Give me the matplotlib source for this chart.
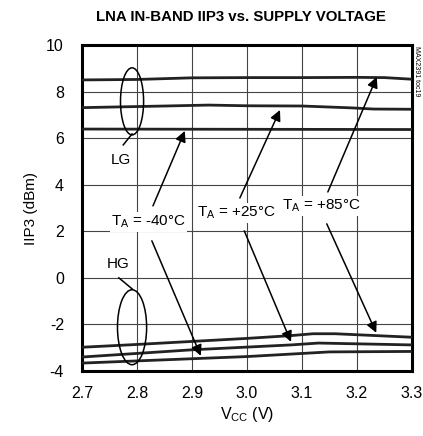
import matplotlib
matplotlib.use('Agg')
import matplotlib.pyplot as plt
from matplotlib.patches import Ellipse

plt.rcParams['font.family'] = ['Liberation Sans', 'DejaVu Sans']
plt.rcParams['axes.unicode_minus'] = False

# LG curves (low gain)
lg_85_x = [2.7, 2.8, 2.9, 3.0, 3.1, 3.2, 3.25, 3.3]
lg_85_y = [8.50, 8.52, 8.59, 8.60, 8.60, 8.61, 8.60, 8.53]
lg_25_x = [2.7, 2.85, 2.93, 3.0, 3.1, 3.19, 3.23, 3.3]
lg_25_y = [7.31, 7.38, 7.42, 7.39, 7.38, 7.30, 7.25, 7.24]
lg_m40_x = [2.7, 3.0, 3.3]
lg_m40_y = [6.39, 6.38, 6.37]

# HG curves (high gain)
hg_a_x = [2.7, 2.8, 2.9, 3.0, 3.08, 3.12, 3.16, 3.3]
hg_a_y = [-2.98, -2.86, -2.73, -2.60, -2.48, -2.40, -2.40, -2.55]
hg_b_x = [2.7, 2.9, 3.08, 3.13, 3.3]
hg_b_y = [-3.40, -3.09, -2.88, -2.80, -2.88]
hg_c_x = [2.7, 3.0, 3.15, 3.3]
hg_c_y = [-3.66, -3.38, -3.18, -3.16]

x_ticks = [2.7, 2.8, 2.9, 3.0, 3.1, 3.2, 3.3]
y_ticks = [-4, -2, 0, 2, 4, 6, 8, 10]

fig = plt.figure(figsize=(4.23, 4.36), dpi=100)
ax = fig.add_axes([82/423, 1 - 371/436, 330/423, 326/436])

for xs, ys in [(lg_85_x, lg_85_y), (lg_25_x, lg_25_y), (lg_m40_x, lg_m40_y),
               (hg_a_x, hg_a_y), (hg_b_x, hg_b_y), (hg_c_x, hg_c_y)]:
    ax.plot(xs, ys, color='#222222', lw=2.0, zorder=3, solid_capstyle='butt')

ax.set_xlim(2.7, 3.3)
ax.set_ylim(-4, 10)
ax.set_xticks(x_ticks)
ax.set_xticklabels(['2.7', '2.8', '2.9', '3.0', '3.1', '3.2', '3.3'])
ax.set_yticks(y_ticks)
ax.tick_params(length=0, labelsize=11.5)
ax.tick_params(axis='y', pad=13)
ax.tick_params(axis='x', pad=11)
ax.grid(True, color='#444444', lw=0.8)
for s in ax.spines.values():
    s.set_linewidth(2.2)

ax.set_xlabel(r'V$_\mathregular{CC}$ (V)', fontsize=11.5, labelpad=3)
ax.set_ylabel('IIP3 (dBm)', fontsize=11, labelpad=6)
fig.text(241/423, 1 - 17/436, 'LNA IN-BAND IIP3 vs. SUPPLY VOLTAGE',
         fontsize=10.8, fontweight='bold', ha='center', va='center')
fig.text(416/423, 1 - 46/436, 'MAX2391 toc19', fontsize=5, rotation=-90,
         ha='center', va='top')

box = dict(facecolor='white', edgecolor='none', pad=1)
lab_size = 11
ax.text(2.821, 2.4, r'T$_\mathregular{A}$ = -40°C', fontsize=lab_size, ha='center',
        va='center', bbox=box, zorder=4)
ax.text(2.98, 2.79, r'T$_\mathregular{A}$ = +25°C', fontsize=lab_size, ha='center',
        va='center', bbox=box, zorder=4)
ax.text(3.135, 3.09, r'T$_\mathregular{A}$ = +85°C', fontsize=lab_size, ha='center',
        va='center', bbox=box, zorder=4)

arrows = [((2.829, 3.09), (2.887, 6.31)),
          ((2.827, 1.59), (2.916, -3.35)),
          ((2.987, 3.43), (3.06, 7.21)),
          ((2.995, 2.02), (3.08, -2.75)),
          ((3.147, 3.69), (3.236, 8.63)),
          ((3.145, 2.32), (3.235, -2.36))]
for tail, tip in arrows:
    ax.annotate('', xy=tip, xytext=tail,
                arrowprops=dict(arrowstyle='-|>', color='black', lw=1.1,
                                mutation_scale=16, shrinkA=0, shrinkB=0),
                zorder=5)

ax.add_patch(Ellipse((2.791, 7.58), 0.042, 2.88, fill=False, lw=1.1,
                     edgecolor='black', zorder=5))
ax.add_patch(Ellipse((2.791, -2.12), 0.053, 3.22, fill=False, lw=1.1,
                     edgecolor='black', zorder=5))
ax.text(2.770, 5.08, 'LG', fontsize=lab_size, ha='center', va='center',
        bbox=box, zorder=4)
ax.plot([2.775, 2.791], [5.71, 6.18], color='black', lw=1.1, zorder=5)
ax.text(2.766, 0.58, 'HG', fontsize=lab_size, ha='center', va='center',
        bbox=box, zorder=4)
ax.plot([2.767, 2.791], [0.0, -0.47], color='black', lw=1.1, zorder=5)

fig.savefig('out.png', dpi=100)
